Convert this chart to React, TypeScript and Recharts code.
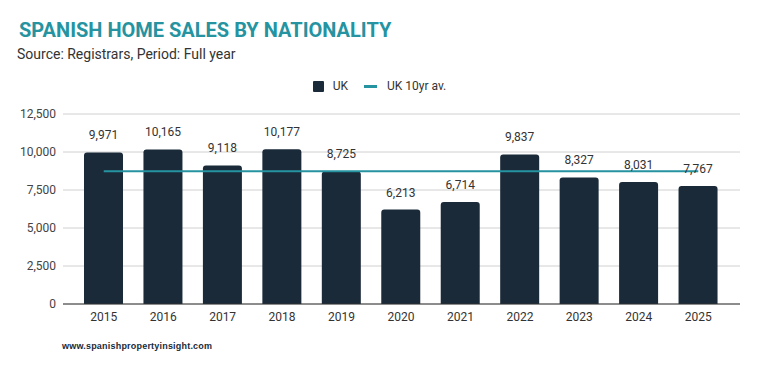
import { Bar, Line, XAxis, YAxis, CartesianGrid, Legend, LabelList, ComposedChart } from 'recharts'

const years = ['2015', '2016', '2017', '2018', '2019', '2020', '2021', '2022', '2023', '2024', '2025']
const ukSales = [9971, 10165, 9118, 10177, 8725, 6213, 6714, 9837, 8327, 8031, 7767]
const ukAverage = [8728, 8728, 8728, 8728, 8728, 8728, 8728, 8728, 8728, 8728, 8728]
const yTicks = [0, 2500, 5000, 7500, 10000, 12500]

const BAR_COLOR = '#1a2a39'
const LINE_COLOR = '#2593a0'
const FONT = 'Roboto, "Noto Sans", sans-serif'

const data = years.map((year, i) => ({ year, uk: ukSales[i], avg: ukAverage[i] }))

const fmt = (v: number) => v.toLocaleString('en-US')

function LegendContent() {
  return (
    <div style={{ display: 'flex', justifyContent: 'center', alignItems: 'center', fontFamily: FONT, fontSize: 12, color: '#333' }}>
      <span style={{ width: 11, height: 11, background: BAR_COLOR, display: 'inline-block', borderRadius: 1 }} />
      <span style={{ marginLeft: 9 }}>UK</span>
      <span style={{ width: 13, height: 3, background: LINE_COLOR, display: 'inline-block', marginLeft: 16 }} />
      <span style={{ marginLeft: 10 }}>UK 10yr av.</span>
    </div>
  )
}

export default function App() {
  return (
    <div style={{ position: 'absolute', left: 0, top: 0, width: 759, height: 371, background: '#fff', fontFamily: FONT }}>
      <div style={{ position: 'absolute', left: 19, top: 18, fontSize: 20, fontWeight: 700, color: LINE_COLOR, whiteSpace: 'nowrap' }}>
        SPANISH HOME SALES BY NATIONALITY
      </div>
      <div style={{ position: 'absolute', left: 17, top: 46, fontSize: 14, color: '#333', whiteSpace: 'nowrap' }}>
        Source: Registrars, Period: Full year
      </div>
      <ComposedChart
        width={759}
        height={371}
        data={data}
        margin={{ top: 114, right: 19, bottom: 37, left: 0 }}
      >
        <CartesianGrid vertical={false} stroke="#d0d0d0" />
        <XAxis
          dataKey="year"
          tickLine={false}
          axisLine={{ stroke: '#333' }}
          tick={{ fontSize: 12, fill: '#333', fontFamily: FONT }}
          padding={{ left: 11, right: 12 }}
        />
        <YAxis
          width={63}
          domain={[0, 12500]}
          ticks={yTicks}
          tickFormatter={fmt}
          axisLine={false}
          tickLine={false}
          tickSize={0}
          tickMargin={7}
          tick={{ fontSize: 12, fill: '#444', fontFamily: FONT }}
        />
        <Legend
          verticalAlign="middle"
          align="center"
          content={<LegendContent />}
          wrapperStyle={{ top: 79, left: 0, width: 759 }}
        />
        <Bar dataKey="uk" name="UK" fill={BAR_COLOR} barSize={39} radius={[3, 3, 0, 0]} isAnimationActive={false}>
          <LabelList dataKey="uk" position="top" offset={13} formatter={(v: any) => fmt(Number(v))} style={{ fontSize: 12, fill: '#333', fontFamily: FONT }} />
        </Bar>
        <Line
          dataKey="avg"
          name="UK 10yr av."
          stroke={LINE_COLOR}
          strokeWidth={2}
          dot={false}
          activeDot={false}
          isAnimationActive={false}
        />
      </ComposedChart>
      <div style={{ position: 'absolute', left: 62, top: 341, fontSize: 9, fontWeight: 700, color: '#1a2a39', letterSpacing: 0.2, whiteSpace: 'nowrap', fontFamily: '"Liberation Sans", Arial, sans-serif' }}>
        www.spanishpropertyinsight.com
      </div>
    </div>
  )
}
